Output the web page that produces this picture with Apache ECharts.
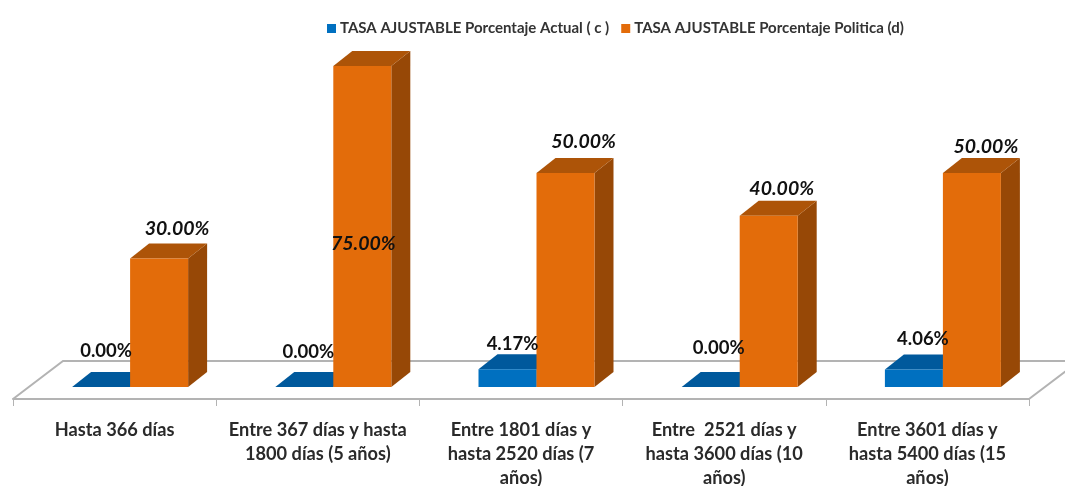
<!DOCTYPE html>
<html><head><meta charset="utf-8">
<style>html,body{margin:0;padding:0;background:#fff}#c{width:1065px;height:486px}</style>
<script src="https://cdn.jsdelivr.net/npm/echarts@6/dist/echarts.min.js"></script>
</head><body><div id="c"></div>
<script>
const categories = ['Hasta 366 días','Entre 367 días y hasta\n1800 días (5 años)','Entre 1801 días y\nhasta 2520 días (7\naños)','Entre  2521 días y\nhasta 3600 días (10\naños)','Entre 3601 días y\nhasta 5400 días (15\naños)'];
const actual = [0, 0, 4.17, 0, 4.06];
const policy = [30, 75, 50, 40, 50];
const seriesNames = ['TASA AJUSTABLE Porcentaje Actual ( c )','TASA AJUSTABLE Porcentaje Politica (d)'];

// hand-placed label nudges (px from the bar's front-top centre)
const actualNudge = [[5,-36],[4,-35],[5,-25],[8,-39],[9,-31]];
const policyNudge = [[18,-30],[1,178],[18,-31],[13,-27],[14,-26]];

const FONT = 'Lato, "Open Sans", sans-serif';
const BAR_W = 58, DEPTH_X = 19, DEPTH_Y = 15, SHIFT = 15.5;

function bar3d(front, top, side, nudge, textStyle, leftOffset) {
  return function (params, api) {
    const i = api.value(0), v = api.value(1);
    const base = api.coord([i, 0]), head = api.coord([i, v]);
    const x0 = base[0] + SHIFT + leftOffset, x1 = x0 + BAR_W, y0 = base[1], y1 = head[1];
    const children = [];
    const poly = (pts, fill) => children.push({type:'polygon', shape:{points:pts}, style:{fill:fill}});
    poly([[x1,y0],[x1+DEPTH_X,y0-DEPTH_Y],[x1+DEPTH_X,y1-DEPTH_Y],[x1,y1]], side);
    poly([[x0,y1],[x0+DEPTH_X,y1-DEPTH_Y],[x1+DEPTH_X,y1-DEPTH_Y],[x1,y1]], top);
    if (y0 - y1 > 0.5) poly([[x0,y0],[x1,y0],[x1,y1],[x0,y1]], front);
    const n = nudge[params.dataIndex];
    children.push({type:'text', z2:100, x:(x0+x1)/2+n[0], y:y1+n[1], style:Object.assign({
      text:v.toFixed(2)+'%', align:'center', verticalAlign:'middle', fill:'#111', font:textStyle
    })});
    return {type:'group', children:children};
  };
}

const option = {
  animation:false,
  backgroundColor:'#fff',
  legend:{
    top:16, left:322, itemWidth:9, itemHeight:9, itemGap:12, icon:'rect',
    textStyle:{fontFamily:FONT, fontSize:15, fontWeight:'bold', color:'#333', padding:[0,0,0,-1]},
    data:seriesNames
  },
  grid:{left:13, right:36, top:44.6, height:354.4, outerBoundsMode:'none', containLabel:false},
  xAxis:{
    type:'category', data:categories, boundaryGap:true,
    axisLine:{show:true, onZero:false, lineStyle:{color:'#b3b3b3', width:2}},
    axisTick:{show:true, length:7, lineStyle:{color:'#b3b3b3', width:1}},
    axisLabel:{interval:0, margin:19, fontFamily:FONT, fontSize:18.2, fontWeight:'bold', color:'#2a2a2a', lineHeight:24, align:'center'}
  },
  yAxis:{type:'value', min:-2.804, max:80, show:false, splitLine:{show:false}},
  series:[
    {type:'custom', name:'floor', silent:true, z:1, legendHoverLink:false, data:[[0,0]],
     renderItem:function(params){
       const c = params.coordSys, b = c.y + c.height, r = c.x + c.width;
       return {type:'polyline', shape:{points:[[c.x,b],[c.x+50,b-38],[r+50,b-38],[r,b]]},
               style:{fill:null, stroke:'#b3b3b3', lineWidth:2}};
     }},
    {type:'custom', name:seriesNames[0], z:2, silent:true, itemStyle:{color:'#0070C0'},
     data:actual.map((v,i)=>[i,v]), encode:{x:0,y:1},
     renderItem:bar3d('#0070C0','#00599C','#00599C',actualNudge,'bold 18.5px '+FONT,-BAR_W)},
    {type:'custom', name:seriesNames[1], z:2, silent:true, itemStyle:{color:'#E36C0A'},
     data:policy.map((v,i)=>[i,v]), encode:{x:0,y:1},
     renderItem:bar3d('#E36C0A','#AD5408','#974806',policyNudge,'italic bold 19.5px '+FONT,0)}
  ]
};
echarts.init(document.getElementById('c'),null,{renderer:'canvas'}).setOption(option);
</script></body></html>
